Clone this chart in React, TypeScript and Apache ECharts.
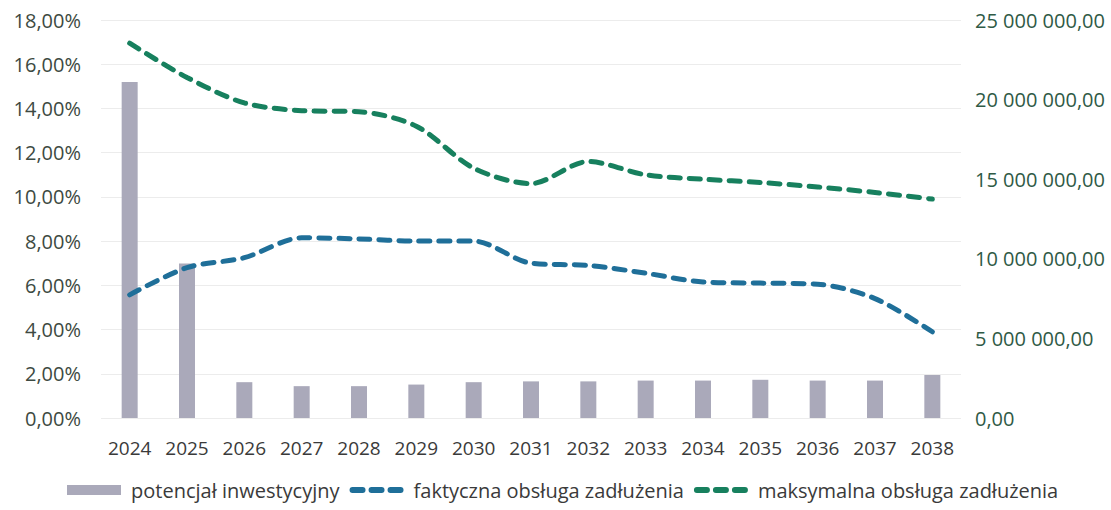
import React, { useEffect, useRef } from "react";
import * as echarts from "echarts";

const years = ["2024","2025","2026","2027","2028","2029","2030","2031","2032","2033","2034","2035","2036","2037","2038"];
const potencjal = [21100000, 9700000, 2250000, 2000000, 2000000, 2100000, 2250000, 2300000, 2300000, 2350000, 2350000, 2400000, 2350000, 2350000, 2700000];
const faktyczna = [5.57, 6.8, 7.25, 8.15, 8.1, 8.0, 8.0, 7.0, 6.9, 6.55, 6.15, 6.1, 6.05, 5.4, 3.9];
const maksymalna = [16.95, 15.4, 14.25, 13.9, 13.85, 13.2, 11.3, 10.6, 11.6, 11.0, 10.8, 10.65, 10.45, 10.2, 9.9];

const FONT = "'Open Sans', Lato, sans-serif";

const DASH_ICON =
  "path://M3,0 h10 a3,3 0 0 1 0,6 h-10 a3,3 0 0 1 0,-6 z " +
  "M22,0 h10 a3,3 0 0 1 0,6 h-10 a3,3 0 0 1 0,-6 z " +
  "M41,0 h10 a3,3 0 0 1 0,6 h-10 a3,3 0 0 1 0,-6 z";

function fmtMoney(v: number) {
  const s = Math.round(v).toString().replace(/\B(?=(\d{3})+(?!\d))/g, " ");
  return s + ",00";
}

export default function App() {
  const ref = useRef<HTMLDivElement>(null);
  useEffect(() => {
    if (!ref.current) return;
    const chart = echarts.init(ref.current, undefined, { renderer: "svg" });
    chart.setOption({
      animation: false,
      backgroundColor: "#ffffff",
      textStyle: { fontFamily: FONT },
      grid: { left: 101, right: 150, top: 20, bottom: 92 },
      legend: {
        bottom: 5,
        left: 62,
        itemWidth: 54,
        itemHeight: 10,
        itemGap: 10,
        textStyle: { fontSize: 20, color: "#3a3a3a", fontFamily: FONT, padding: [0, 0, 0, 5] },
        data: [
          { name: "potencjał inwestycyjny", icon: "rect" },
          { name: "faktyczna obsługa zadłużenia", icon: DASH_ICON },
          { name: "maksymalna obsługa zadłużenia", icon: DASH_ICON },
        ],
      },
      xAxis: {
        type: "category",
        data: years,
        axisLine: { show: false },
        axisTick: { show: false },
        axisLabel: { fontSize: 19, color: "#3a3a3a", margin: 20, fontFamily: FONT },
      },
      yAxis: [
        {
          type: "value",
          min: 0,
          max: 18,
          interval: 2,
          axisLine: { show: false },
          axisTick: { show: false },
          splitLine: { show: true, lineStyle: { color: "#ececec", width: 1 } },
          axisLabel: {
            fontSize: 20,
            color: "#3d4a42",
            margin: 20,
            fontFamily: FONT,
            formatter: (v: number) => v.toFixed(2).replace(".", ",") + "%",
          },
        },
        {
          type: "value",
          min: 0,
          max: 25000000,
          interval: 5000000,
          position: "right",
          axisLine: { show: false },
          axisTick: { show: false },
          splitLine: { show: false },
          axisLabel: {
            fontSize: 20,
            color: "#2f5a46",
            margin: 14,
            fontFamily: FONT,
            formatter: (v: number) => fmtMoney(v),
          },
        },
      ],
      series: [
        {
          name: "potencjał inwestycyjny",
          type: "bar",
          yAxisIndex: 1,
          data: potencjal,
          barWidth: 16,
          itemStyle: { color: "#aaa9ba" },
        },
        {
          name: "faktyczna obsługa zadłużenia",
          type: "line",
          yAxisIndex: 0,
          data: faktyczna,
          smooth: 0.3,
          symbol: "none",
          lineStyle: { color: "#1f6f99", width: 5, type: [11, 9], cap: "round" },
          itemStyle: { color: "#1f6f99" },
        },
        {
          name: "maksymalna obsługa zadłużenia",
          type: "line",
          yAxisIndex: 0,
          data: maksymalna,
          smooth: 0.3,
          symbol: "none",
          lineStyle: { color: "#17805e", width: 5, type: [11, 9], cap: "round" },
          itemStyle: { color: "#17805e" },
        },
      ],
    });
    return () => chart.dispose();
  }, []);
  return <div ref={ref} style={{ width: 1111, height: 510, position: "absolute", left: 0, top: 0 }} />;
}
